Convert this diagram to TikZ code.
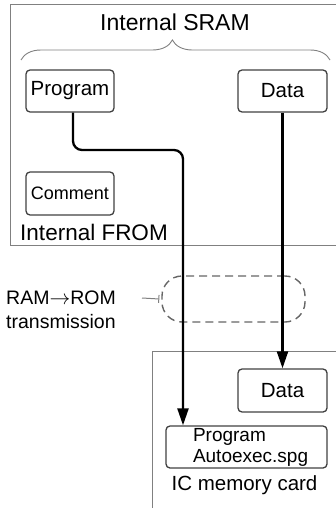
\documentclass[tikz,border=0pt]{standalone}
\usepackage{fontspec}
\setmainfont{Liberation Sans}
\usetikzlibrary{arrows.meta,decorations.pathreplacing}
\hfuzz=60pt
\begin{document}
\begin{tikzpicture}[x=1pt,y=-1pt,
  box/.style={draw=black!75,line width=1.3pt,rounded corners=4pt,inner sep=0pt},
  frame/.style={draw=black!50,line width=0.9pt},
  conn/.style={line width=2.3pt,-{Triangle[length=17pt,width=11pt]}},
  lbl/.style={inner sep=0pt,text=black},
]
\useasboundingbox (0,0) rectangle (336,508);
% top frame
\draw[frame] (336,4) -- (10,4) -- (10,245) -- (336,245);
\node[lbl,font=\fontsize{23}{28}\selectfont] (sram) at (175,22) {Internal SRAM};
\draw[frame,decorate,decoration={brace,amplitude=20pt,aspect=0.49}] (21,60) -- (330,60);
\node[box,minimum width=88pt,minimum height=42pt,font=\fontsize{20.5}{24}\selectfont] (prog) at (70,91) {Program};
\node[box,minimum width=89pt,minimum height=42pt,font=\fontsize{20.5}{24}\selectfont] (data) at (282.5,91) {Data};
\node[box,minimum width=88pt,minimum height=43pt,font=\fontsize{18}{22}\selectfont] (comm) at (70,193.5) {Comment};
\node[lbl,font=\fontsize{22.5}{27}\selectfont] (from) at (94,232) {Internal FROM};
% transmission
\node[draw=black!60,line width=1.4pt,dash pattern=on 8pt off 5pt,rounded corners=20pt,minimum width=143pt,minimum height=46pt] (tx) at (233.5,299) {};
\coordinate (tk) at (142,298);
\draw[frame,line width=1pt,-{Bar[width=8pt]}] (tk) -- ([xshift=-2pt]tx.west);
\node[lbl,anchor=west,align=left,font=\fontsize{19.5}{24}\selectfont] (lab) at (6,310) {RAM$\rightarrow$ROM\\transmission};
% lower frame
\draw[frame] (336,351) -- (152,351) -- (152,508);
\node[box,minimum width=89pt,minimum height=43pt,font=\fontsize{20.5}{24}\selectfont] (data2) at (282.5,390.5) {Data};
\node[box,minimum width=161pt,minimum height=42pt,text width=107pt,align=left,font=\fontsize{19}{21}\selectfont] (prog2) at (246.5,447) {Program\\Autoexec.spg};
\node[lbl,font=\fontsize{20.5}{24}\selectfont] (card) at (244.5,485) {IC memory card};
% connectors
\coordinate (bend) at (183,150);
\draw[conn,rounded corners=9pt] ([xshift=3pt]prog.south) |- (bend) -- (bend |- prog2.north);
\draw[conn] (data.south) -- (data2.north);
\end{tikzpicture}
\end{document}
